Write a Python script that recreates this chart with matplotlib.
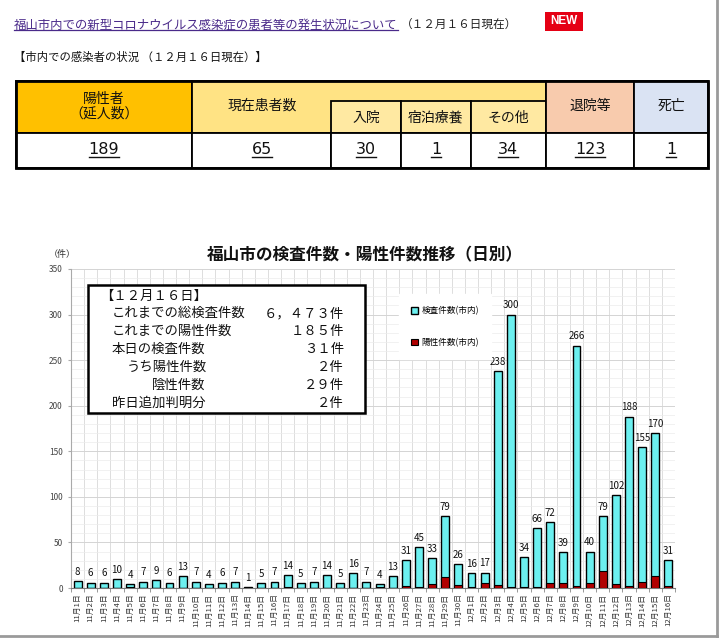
import matplotlib
matplotlib.use('Agg')
import matplotlib.pyplot as plt
from matplotlib.patches import Rectangle
import numpy as np

plt.rcParams['font.family'] = ['Noto Sans CJK JP', 'DejaVu Sans']

# ---------------- data ----------------
dates = ['11月1日', '11月2日', '11月3日', '11月4日', '11月5日', '11月6日', '11月7日',
         '11月8日', '11月9日', '11月10日', '11月11日', '11月12日', '11月13日', '11月14日',
         '11月15日', '11月16日', '11月17日', '11月18日', '11月19日', '11月20日', '11月21日',
         '11月22日', '11月23日', '11月24日', '11月25日', '11月26日', '11月27日', '11月28日',
         '11月29日', '11月30日', '12月1日', '12月2日', '12月3日', '12月4日', '12月5日',
         '12月6日', '12月7日', '12月8日', '12月9日', '12月10日', '12月11日', '12月12日',
         '12月13日', '12月14日', '12月15日', '12月16日']
tests = [8, 6, 6, 10, 4, 7, 9, 6, 13, 7, 4, 6, 7, 1, 5, 7, 14, 5, 7, 14, 5, 16, 7, 4, 13,
         31, 45, 33, 79, 26, 16, 17, 238, 300, 34, 66, 72, 39, 266, 40, 79, 102, 188, 155, 170, 31]
positives = [0, 0, 0, 0, 1, 0, 0, 0, 0, 0, 0, 0, 0, 0, 0, 0, 1, 0, 0, 0, 0, 0, 0, 1, 0,
             2, 1, 4, 12, 3, 1, 5, 3, 1, 1, 1, 6, 6, 2, 5, 19, 4, 2, 7, 13, 2]

series_labels = ['検査件数(市内)', '陽性件数(市内)']

table_headers = ['陽性者\n（延人数）', '現在患者数', '入院', '宿泊療養', 'その他', '退院等', '死亡']
table_values = ['189', '65', '30', '1', '34', '123', '1']

info_labels = ['【１２月１６日】', 'これまでの総検査件数', 'これまでの陽性件数', '本日の検査件数',
               'うち陽性件数', '陰性件数', '昨日追加判明分']
info_values = ['', '６，４７３件', '１８５件', '３１件', '２件', '２９件', '２件']

page_link = '福山市内での新型コロナウイルス感染症の患者等の発生状況について'
page_date = '（１２月１６日現在）'
sub_header = '【市内での感染者の状況 （１２月１６日現在）】'
chart_title = '福山市の検査件数・陽性件数推移（日別）'

# ---------------- figure ----------------
W, H = 720, 638
fig = plt.figure(figsize=(W / 100, H / 100), dpi=100)
fig.patch.set_facecolor('white')

# chart axes
ax = fig.add_axes([71 / W, (H - 588) / H, (675 - 71) / W, (588 - 269) / H])
x = np.arange(len(dates))
b1 = ax.bar(x, tests, width=0.6, color='#6CF0F0', edgecolor='black', linewidth=1.0, zorder=3)
b2 = ax.bar(x, positives, width=0.6, color='#B00000', edgecolor='black', linewidth=0.8, zorder=4)
for xi, v in zip(x, tests):
    ax.annotate(str(v), (xi, v), xytext=(0, 3), textcoords='offset points',
                ha='center', va='bottom', fontsize=7, color='#111111', zorder=5)

ax.set_xlim(-0.5, len(dates) - 0.5)
ax.set_ylim(0, 350)
ax.set_yticks(np.arange(0, 351, 50))
ax.set_yticks(np.arange(0, 351, 10), minor=True)
ax.set_xticks(x)
ax.set_xticks(np.arange(-0.5, len(dates), 1), minor=True)
ax.set_xticklabels(dates, rotation=90, fontsize=5.6, color='#333333')
ax.tick_params(axis='x', which='major', length=0, pad=4)
ax.tick_params(axis='x', which='minor', length=3, color='#888888')
ax.tick_params(axis='y', which='major', labelsize=6, labelcolor='#444444', length=2,
               color='#aaaaaa', pad=4)
ax.tick_params(axis='y', which='minor', length=0)
ax.set_axisbelow(True)
ax.yaxis.grid(True, which='major', color='#d4d4d4', linewidth=0.7)
ax.yaxis.grid(True, which='minor', color='#ececec', linewidth=0.5)
ax.xaxis.grid(True, which='minor', color='#d8d8d8', linewidth=0.6)
ax.xaxis.grid(False, which='major')
for s in ['top', 'right']:
    ax.spines[s].set_visible(False)
ax.spines['left'].set_color('#aaaaaa')
ax.spines['bottom'].set_color('#777777')

leg = ax.legend([b1, b2], series_labels, loc='upper left',
                bbox_to_anchor=(395 / W, 1 - 290 / H), bbox_transform=fig.transFigure,
                fontsize=6.2, frameon=True, facecolor='white', edgecolor='white',
                framealpha=1, fancybox=False, handlelength=0.8, handleheight=0.8,
                handletextpad=0.4, labelspacing=2.6, borderpad=1.4)
leg.set_zorder(6)

# overlay axes in pixel coordinates
ov = fig.add_axes([0, 0, 1, 1])
ov.set_xlim(0, W)
ov.set_ylim(H, 0)
ov.axis('off')
ov.patch.set_alpha(0)

# header texts
t_link = ov.text(14, 25, page_link, fontsize=8.95, color='#4A2A8A', va='center', ha='left')
t_date = ov.text(400, 25, page_date, fontsize=8.4, color='#222222', va='center', ha='left')
ov.add_patch(Rectangle((545, 12), 38, 19, facecolor='#E50014', edgecolor='none'))
ov.text(564, 21.5, 'NEW', fontsize=8.5, color='white', weight='bold', ha='center',
        va='center', family='Liberation Sans')
ov.text(14, 57, sub_header, fontsize=8.2, color='#111111', va='center', ha='left')

# table
cx = [16, 192, 331, 401, 471, 546, 634, 708]
ty, tm, th, tb = 81, 101, 133, 168
ov.add_patch(Rectangle((cx[0] + 2, ty + 2), cx[-1] - cx[0], tb - ty, facecolor='#bbbbbb',
                       edgecolor='none'))
ov.add_patch(Rectangle((cx[0], ty), cx[1] - cx[0], th - ty, facecolor='#FFC000',
                       edgecolor='black', lw=1.3))
ov.add_patch(Rectangle((cx[1], ty), cx[5] - cx[1], th - ty, facecolor='#FFE384',
                       edgecolor='black', lw=1.3))
for i in (2, 3, 4):
    ov.add_patch(Rectangle((cx[i], tm), cx[i + 1] - cx[i], th - tm, facecolor='#FFE9A2',
                           edgecolor='black', lw=1.3))
ov.add_patch(Rectangle((cx[5], ty), cx[6] - cx[5], th - ty, facecolor='#F8CBAD',
                       edgecolor='black', lw=1.3))
ov.add_patch(Rectangle((cx[6], ty), cx[7] - cx[6], th - ty, facecolor='#DAE3F3',
                       edgecolor='black', lw=1.3))
for i in range(7):
    ov.add_patch(Rectangle((cx[i], th), cx[i + 1] - cx[i], tb - th, facecolor='white',
                           edgecolor='black', lw=1.3))
ov.add_patch(Rectangle((cx[0], ty), cx[-1] - cx[0], tb - ty, facecolor='none',
                       edgecolor='black', lw=2.0))

hdr_pos = [(104, 106), (262, 106), (366, 118), (436, 118), (508, 118), (590, 106), (671, 106)]
for (hx, hy), lab in zip(hdr_pos, table_headers):
    ov.text(hx, hy, lab, fontsize=10, ha='center', va='center', color='#111111',
            linespacing=1.05)

val_x = [104, 262, 366, 436, 508, 590, 671]
val_texts = []
for vx, val in zip(val_x, table_values):
    val_texts.append(ov.text(vx, 150, val, fontsize=11.5, ha='center', va='center',
                             color='#111111', family='Liberation Sans Narrow'))

# chart title etc.
ov.text(365, 255, chart_title, fontsize=12, weight='bold', ha='center', va='center',
        color='#111111')
ov.text(62, 254, '（件）', fontsize=6.5, ha='center', va='center', color='#333333')

# info box
ov.add_patch(Rectangle((88, 285), 277, 128, facecolor='white', edgecolor='black', lw=1.8,
                       zorder=5))
info_x = [100, 112, 112, 112, 127, 152, 112]
info_y = [296, 313, 331, 349, 367, 385, 403]
for lab, val, ix, iy in zip(info_labels, info_values, info_x, info_y):
    ov.text(ix, iy, lab, fontsize=9.6, ha='left', va='center', color='#111111', zorder=6)
    if val:
        ov.text(344, iy, val, fontsize=9.6, ha='right', va='center', color='#111111', zorder=6)

# page frame
ov.plot([717, 717], [0, 637], color='#9a9a9a', lw=2)
ov.plot([0, 717], [636, 636], color='#9a9a9a', lw=2)

# underlines and placement after measuring text
fig.canvas.draw()
inv = ov.transData.inverted()


def extent(t):
    bb = t.get_window_extent()
    (x0, y0), (x1, y1) = inv.transform([[bb.x0, bb.y0], [bb.x1, bb.y1]])
    return x0, x1, max(y0, y1)


def underline(t, dy=0.0, color='#111111', lw=1.0):
    x0, x1, yb = extent(t)
    ov.plot([x0, x1], [yb + dy, yb + dy], color=color, lw=lw)


lx0, lx1, _ = extent(t_link)
t_date.set_x(lx1 + 3)
underline(t_link, dy=-1.5, color='#4A2A8A', lw=0.9)
for t in val_texts:
    underline(t, dy=-1.0, lw=1.0)

fig.savefig('out.png', dpi=100)
